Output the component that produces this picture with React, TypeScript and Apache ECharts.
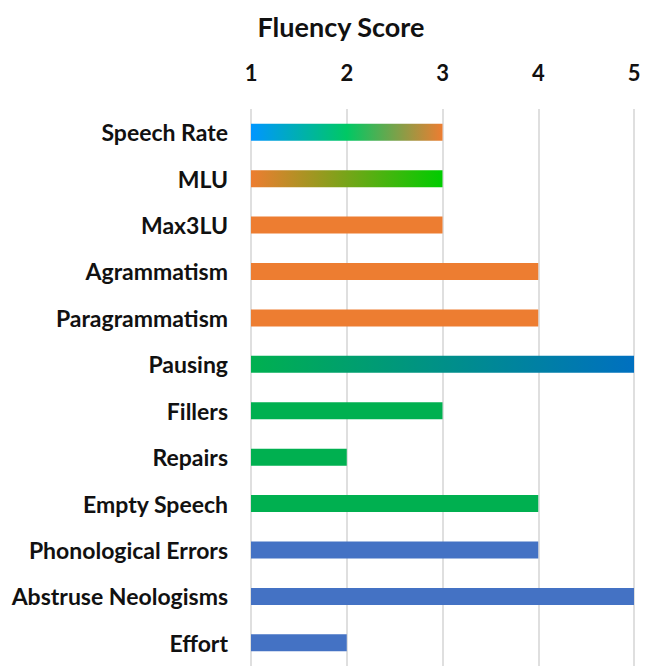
import React, { useEffect, useRef } from "react";
import * as echarts from "echarts";

const categories = [
  "Speech Rate",
  "MLU",
  "Max3LU",
  "Agrammatism",
  "Paragrammatism",
  "Pausing",
  "Fillers",
  "Repairs",
  "Empty Speech",
  "Phonological Errors",
  "Abstruse Neologisms",
  "Effort",
];
const scores = [3, 3, 3, 4, 4, 5, 3, 2, 4, 4, 5, 2];
const tickLabels = ["1", "2", "3", "4", "5"];

const ORANGE = "#ED7D31";
const GREEN = "#00B050";
const BLUE = "#4472C4";

const grad = (stops: [number, string][]) =>
  new echarts.graphic.LinearGradient(
    0,
    0,
    1,
    0,
    stops.map(([offset, color]) => ({ offset, color }))
  );

const barColors = [
  grad([
    [0, "#0096FF"],
    [0.5, "#00C864"],
    [1, ORANGE],
  ]),
  grad([
    [0, ORANGE],
    [1, "#00CC00"],
  ]),
  ORANGE,
  ORANGE,
  ORANGE,
  grad([
    [0, GREEN],
    [1, "#0070C0"],
  ]),
  GREEN,
  GREEN,
  GREEN,
  BLUE,
  BLUE,
  BLUE,
];

export default function App() {
  const ref = useRef<HTMLDivElement>(null);
  useEffect(() => {
    if (!ref.current) return;
    const chart = echarts.init(ref.current, null, { renderer: "svg" });
    chart.setOption({
      animation: false,
      backgroundColor: "#ffffff",
      title: {
        text: "Fluency Score",
        left: 336,
        top: 8,
        textAlign: "center",
        textStyle: {
          fontFamily: "Lato",
          fontWeight: "bold",
          fontSize: 27,
          color: "#111111",
        },
      },
      grid: {
        left: 251,
        top: 109,
        width: 383,
        height: 559,
        containLabel: false,
      },
      xAxis: {
        type: "value",
        position: "top",
        min: 1,
        max: 5,
        interval: 1,
        axisLine: { show: false },
        axisTick: { show: false },
        axisLabel: {
          margin: 26,
          fontFamily: "Lato",
          fontWeight: "bold",
          fontSize: 22,
          color: "#111111",
          formatter: (v: number) => tickLabels[Math.round(v) - 1] ?? "",
        },
        splitLine: { show: true, lineStyle: { color: "#D4D4D4", width: 1.5 } },
      },
      yAxis: {
        type: "category",
        inverse: true,
        data: categories,
        axisLine: { show: false },
        axisTick: { show: false },
        axisLabel: {
          margin: 23,
          fontFamily: "Lato",
          fontWeight: "bold",
          fontSize: 23,
          color: "#111111",
        },
      },
      series: [
        {
          type: "bar",
          barWidth: 17,
          data: scores.map((v, i) => ({
            value: v,
            itemStyle: { color: barColors[i] },
          })),
        },
      ],
    });
    return () => chart.dispose();
  }, []);
  return (
    <div
      ref={ref}
      style={{ position: "fixed", left: 0, top: 0, width: 652, height: 666 }}
    />
  );
}
